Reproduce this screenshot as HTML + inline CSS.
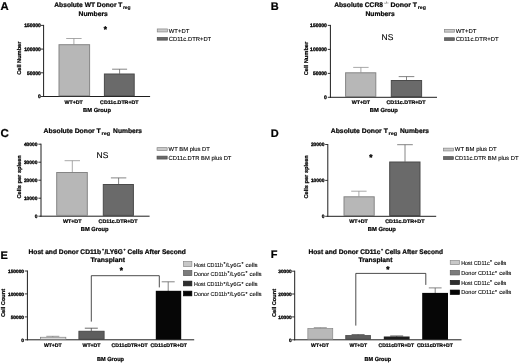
<!DOCTYPE html>
<html><head><meta charset="utf-8"><title>Figure</title>
<style>
html,body{margin:0;padding:0;background:#fff;}
body{width:520px;height:363px;overflow:hidden;}
svg{display:block;filter:blur(0.35px);text-rendering:geometricPrecision;font-family:'Liberation Sans', sans-serif;}
</style></head><body>
<svg width="520" height="363" viewBox="0 0 520 363" font-family='"Liberation Sans", sans-serif'>
<rect width="520" height="363" fill="#ffffff"/>
<text x="0.5" y="10" font-size="11.3" font-weight="bold" fill="#000" stroke="#000" stroke-width="0.22">A</text>
<text x="54.3" y="6.9" font-size="6.7" font-weight="bold" textLength="68.1" lengthAdjust="spacingAndGlyphs" fill="#000" stroke="#000" stroke-width="0.22">Absolute WT Donor T</text>
<text x="122.9" y="9.2" font-size="4.9" font-weight="bold" textLength="7.8" lengthAdjust="spacingAndGlyphs" fill="#000" stroke="#000" stroke-width="0.1">reg</text>
<text x="78.5" y="15.9" font-size="6.7" font-weight="bold" textLength="29.3" lengthAdjust="spacingAndGlyphs" fill="#000" stroke="#000" stroke-width="0.22">Numbers</text>
<line x1="43.6" y1="24.9" x2="43.6" y2="97.0" stroke="#1e1e1e" stroke-width="1.0"/>
<line x1="43.1" y1="96.5" x2="150.1" y2="96.5" stroke="#1e1e1e" stroke-width="1.0"/>
<line x1="41.0" y1="25.4" x2="43.6" y2="25.4" stroke="#1e1e1e" stroke-width="0.9"/>
<text x="40.9" y="27.2" font-size="5.0" font-weight="bold" text-anchor="end" fill="#000" stroke="#000" stroke-width="0.3">150000</text>
<line x1="41.0" y1="49.1" x2="43.6" y2="49.1" stroke="#1e1e1e" stroke-width="0.9"/>
<text x="40.9" y="50.9" font-size="5.0" font-weight="bold" text-anchor="end" fill="#000" stroke="#000" stroke-width="0.3">100000</text>
<line x1="41.0" y1="72.8" x2="43.6" y2="72.8" stroke="#1e1e1e" stroke-width="0.9"/>
<text x="40.9" y="74.6" font-size="5.0" font-weight="bold" text-anchor="end" fill="#000" stroke="#000" stroke-width="0.3">50000</text>
<line x1="41.0" y1="96.5" x2="43.6" y2="96.5" stroke="#1e1e1e" stroke-width="0.9"/>
<text x="40.9" y="98.3" font-size="5.0" font-weight="bold" text-anchor="end" fill="#000" stroke="#000" stroke-width="0.3">0</text>
<text transform="translate(21.0,58.2) rotate(-90)" font-size="5.6" font-weight="bold" text-anchor="middle" textLength="33.2" lengthAdjust="spacingAndGlyphs" fill="#000" stroke="#000" stroke-width="0.22">Cell Number</text>
<line x1="73.9" y1="38.5" x2="73.9" y2="44.5" stroke="#8c8c8c" stroke-width="0.75"/>
<line x1="66.2" y1="38.5" x2="81.60000000000001" y2="38.5" stroke="#8c8c8c" stroke-width="0.75"/>
<rect x="59.00" y="44.70" width="30.60" height="51.00" fill="#b7b7b7" stroke="#858585" stroke-width="1.0"/>
<line x1="119.6" y1="69.2" x2="119.6" y2="73.8" stroke="#5e5e5e" stroke-width="0.75"/>
<line x1="112.1" y1="69.2" x2="127.1" y2="69.2" stroke="#5e5e5e" stroke-width="0.75"/>
<rect x="104.40" y="74.00" width="29.80" height="21.70" fill="#6a6a6a" stroke="#4a4a4a" stroke-width="1.0"/>
<text x="105.4" y="32.054" font-size="8.2" font-weight="bold" text-anchor="middle" fill="#000" stroke="#000" stroke-width="0.4">*</text>
<text x="73.7" y="103.8" font-size="5.2" font-weight="bold" text-anchor="middle" textLength="18.2" lengthAdjust="spacingAndGlyphs" fill="#000" stroke="#000" stroke-width="0.22">WT+DT</text>
<text x="119.3" y="103.8" font-size="5.2" font-weight="bold" text-anchor="middle" textLength="38.4" lengthAdjust="spacingAndGlyphs" fill="#000" stroke="#000" stroke-width="0.22">CD11c.DTR+DT</text>
<text x="83.1" y="111.6" font-size="5.8" font-weight="bold" textLength="27.8" lengthAdjust="spacingAndGlyphs" fill="#000" stroke="#000" stroke-width="0.22">BM Group</text>
<rect x="157.25" y="28.95" width="10.10" height="3.00" fill="#c9c9c9" stroke="#858585" stroke-width="0.7"/>
<rect x="157.25" y="37.45" width="10.10" height="2.70" fill="#6a6a6a" stroke="#4a4a4a" stroke-width="0.7"/>
<text x="168.8" y="32.5" font-size="5.9" textLength="20.5" lengthAdjust="spacingAndGlyphs" fill="#000" stroke="#000" stroke-width="0.1">WT+DT</text>
<text x="168.8" y="40.8" font-size="5.9" textLength="42.4" lengthAdjust="spacingAndGlyphs" fill="#000" stroke="#000" stroke-width="0.1">CD11c.DTR+DT</text>
<text x="270.7" y="9.7" font-size="11" font-weight="bold" fill="#000" stroke="#000" stroke-width="0.22">B</text>
<text x="334.2" y="6.9" font-size="6.7" font-weight="bold" textLength="48.8" lengthAdjust="spacingAndGlyphs" fill="#000" stroke="#000" stroke-width="0.22">Absolute CCR8</text>
<text x="383.8" y="4.4" font-size="3.6" font-weight="bold" textLength="4.8" lengthAdjust="spacingAndGlyphs" fill="#555">-/-</text>
<text x="390.4" y="6.9" font-size="6.7" font-weight="bold" textLength="26.7" lengthAdjust="spacingAndGlyphs" fill="#000" stroke="#000" stroke-width="0.22">Donor T</text>
<text x="417.7" y="9.2" font-size="4.9" font-weight="bold" textLength="8.2" lengthAdjust="spacingAndGlyphs" fill="#000" stroke="#000" stroke-width="0.1">reg</text>
<text x="365.5" y="15.9" font-size="6.7" font-weight="bold" textLength="29.2" lengthAdjust="spacingAndGlyphs" fill="#000" stroke="#000" stroke-width="0.22">Numbers</text>
<line x1="330.4" y1="24.9" x2="330.4" y2="97.8" stroke="#1e1e1e" stroke-width="1.0"/>
<line x1="329.9" y1="97.3" x2="437.0" y2="97.3" stroke="#1e1e1e" stroke-width="1.0"/>
<line x1="327.79999999999995" y1="25.4" x2="330.4" y2="25.4" stroke="#1e1e1e" stroke-width="0.9"/>
<text x="326.8" y="27.2" font-size="5.0" font-weight="bold" text-anchor="end" fill="#000" stroke="#000" stroke-width="0.3">150000</text>
<line x1="327.79999999999995" y1="49.4" x2="330.4" y2="49.4" stroke="#1e1e1e" stroke-width="0.9"/>
<text x="326.8" y="51.2" font-size="5.0" font-weight="bold" text-anchor="end" fill="#000" stroke="#000" stroke-width="0.3">100000</text>
<line x1="327.79999999999995" y1="73.4" x2="330.4" y2="73.4" stroke="#1e1e1e" stroke-width="0.9"/>
<text x="326.8" y="75.2" font-size="5.0" font-weight="bold" text-anchor="end" fill="#000" stroke="#000" stroke-width="0.3">50000</text>
<line x1="327.79999999999995" y1="97.3" x2="330.4" y2="97.3" stroke="#1e1e1e" stroke-width="0.9"/>
<text x="326.8" y="99.1" font-size="5.0" font-weight="bold" text-anchor="end" fill="#000" stroke="#000" stroke-width="0.3">0</text>
<text transform="translate(307.6,58.5) rotate(-90)" font-size="5.6" font-weight="bold" text-anchor="middle" textLength="33.5" lengthAdjust="spacingAndGlyphs" fill="#000" stroke="#000" stroke-width="0.22">Cell Number</text>
<line x1="360.9" y1="67.4" x2="360.9" y2="72.6" stroke="#8c8c8c" stroke-width="0.75"/>
<line x1="353.2" y1="67.4" x2="368.59999999999997" y2="67.4" stroke="#8c8c8c" stroke-width="0.75"/>
<rect x="345.60" y="72.80" width="30.20" height="23.70" fill="#b7b7b7" stroke="#858585" stroke-width="1.0"/>
<line x1="406.5" y1="76.6" x2="406.5" y2="80.3" stroke="#5e5e5e" stroke-width="0.75"/>
<line x1="398.7" y1="76.6" x2="414.3" y2="76.6" stroke="#5e5e5e" stroke-width="0.75"/>
<rect x="391.30" y="80.50" width="30.30" height="16.00" fill="#6a6a6a" stroke="#4a4a4a" stroke-width="1.0"/>
<text x="387.4" y="40.0" font-size="8.4" text-anchor="middle" textLength="11.8" lengthAdjust="spacingAndGlyphs" fill="#000" stroke="#000" stroke-width="0.12">NS</text>
<text x="360.9" y="104.3" font-size="5.2" font-weight="bold" text-anchor="middle" textLength="18.4" lengthAdjust="spacingAndGlyphs" fill="#000" stroke="#000" stroke-width="0.22">WT+DT</text>
<text x="406.0" y="104.3" font-size="5.2" font-weight="bold" text-anchor="middle" textLength="39.0" lengthAdjust="spacingAndGlyphs" fill="#000" stroke="#000" stroke-width="0.22">CD11c.DTR+DT</text>
<text x="369.8" y="111.9" font-size="5.8" font-weight="bold" textLength="28.0" lengthAdjust="spacingAndGlyphs" fill="#000" stroke="#000" stroke-width="0.22">BM Group</text>
<rect x="444.55" y="29.35" width="9.80" height="2.80" fill="#c9c9c9" stroke="#858585" stroke-width="0.7"/>
<rect x="444.55" y="37.75" width="9.80" height="2.70" fill="#6a6a6a" stroke="#4a4a4a" stroke-width="0.7"/>
<text x="455.7" y="32.5" font-size="5.9" textLength="20.8" lengthAdjust="spacingAndGlyphs" fill="#000" stroke="#000" stroke-width="0.1">WT+DT</text>
<text x="455.7" y="41.0" font-size="5.9" textLength="42.9" lengthAdjust="spacingAndGlyphs" fill="#000" stroke="#000" stroke-width="0.1">CD11c.DTR+DT</text>
<text x="0.4" y="137.0" font-size="11.5" font-weight="bold" fill="#000" stroke="#000" stroke-width="0.22">C</text>
<text x="43.6" y="133.0" font-size="6.7" font-weight="bold" textLength="57.2" lengthAdjust="spacingAndGlyphs" fill="#000" stroke="#000" stroke-width="0.22">Absolute Donor T</text>
<text x="101.6" y="135.3" font-size="4.9" font-weight="bold" textLength="8.6" lengthAdjust="spacingAndGlyphs" fill="#000" stroke="#000" stroke-width="0.1">reg</text>
<text x="113.1" y="133.0" font-size="6.7" font-weight="bold" textLength="29.0" lengthAdjust="spacingAndGlyphs" fill="#000" stroke="#000" stroke-width="0.22">Numbers</text>
<line x1="41.0" y1="143.7" x2="41.0" y2="216.7" stroke="#1e1e1e" stroke-width="1.0"/>
<line x1="40.5" y1="216.2" x2="149.6" y2="216.2" stroke="#1e1e1e" stroke-width="1.0"/>
<line x1="38.4" y1="144.2" x2="41.0" y2="144.2" stroke="#1e1e1e" stroke-width="0.9"/>
<text x="37.5" y="146.0" font-size="4.8999999999999995" font-weight="bold" text-anchor="end" fill="#000" stroke="#000" stroke-width="0.3">40000</text>
<line x1="38.4" y1="162.2" x2="41.0" y2="162.2" stroke="#1e1e1e" stroke-width="0.9"/>
<text x="37.5" y="164.0" font-size="4.8999999999999995" font-weight="bold" text-anchor="end" fill="#000" stroke="#000" stroke-width="0.3">30000</text>
<line x1="38.4" y1="180.2" x2="41.0" y2="180.2" stroke="#1e1e1e" stroke-width="0.9"/>
<text x="37.5" y="182.0" font-size="4.8999999999999995" font-weight="bold" text-anchor="end" fill="#000" stroke="#000" stroke-width="0.3">20000</text>
<line x1="38.4" y1="198.2" x2="41.0" y2="198.2" stroke="#1e1e1e" stroke-width="0.9"/>
<text x="37.5" y="200.0" font-size="4.8999999999999995" font-weight="bold" text-anchor="end" fill="#000" stroke="#000" stroke-width="0.3">10000</text>
<line x1="38.4" y1="216.2" x2="41.0" y2="216.2" stroke="#1e1e1e" stroke-width="0.9"/>
<text x="37.5" y="218.0" font-size="4.8999999999999995" font-weight="bold" text-anchor="end" fill="#000" stroke="#000" stroke-width="0.3">0</text>
<text transform="translate(21.0,176.9) rotate(-90)" font-size="5.6" font-weight="bold" text-anchor="middle" textLength="43.4" lengthAdjust="spacingAndGlyphs" fill="#000" stroke="#000" stroke-width="0.22">Cells per spleen</text>
<line x1="72.3" y1="160.7" x2="72.3" y2="172.3" stroke="#8c8c8c" stroke-width="0.75"/>
<line x1="64.6" y1="160.7" x2="80.0" y2="160.7" stroke="#8c8c8c" stroke-width="0.75"/>
<rect x="56.70" y="172.50" width="30.60" height="42.90" fill="#b7b7b7" stroke="#858585" stroke-width="1.0"/>
<line x1="118.6" y1="177.9" x2="118.6" y2="184.3" stroke="#5e5e5e" stroke-width="0.75"/>
<line x1="110.89999999999999" y1="177.9" x2="126.3" y2="177.9" stroke="#5e5e5e" stroke-width="0.75"/>
<rect x="103.30" y="184.50" width="30.10" height="30.90" fill="#6a6a6a" stroke="#4a4a4a" stroke-width="1.0"/>
<text x="102.4" y="157.9" font-size="8.4" text-anchor="middle" textLength="11.8" lengthAdjust="spacingAndGlyphs" fill="#000" stroke="#000" stroke-width="0.12">NS</text>
<text x="72.2" y="223.1" font-size="5.2" font-weight="bold" text-anchor="middle" textLength="18.6" lengthAdjust="spacingAndGlyphs" fill="#000" stroke="#000" stroke-width="0.22">WT+DT</text>
<text x="118.0" y="223.1" font-size="5.2" font-weight="bold" text-anchor="middle" textLength="38.9" lengthAdjust="spacingAndGlyphs" fill="#000" stroke="#000" stroke-width="0.22">CD11c.DTR+DT</text>
<text x="80.8" y="231.0" font-size="5.8" font-weight="bold" textLength="27.8" lengthAdjust="spacingAndGlyphs" fill="#000" stroke="#000" stroke-width="0.22">BM Group</text>
<rect x="157.05" y="147.65" width="10.10" height="2.90" fill="#c9c9c9" stroke="#858585" stroke-width="0.7"/>
<rect x="157.05" y="156.15" width="10.10" height="2.90" fill="#6a6a6a" stroke="#4a4a4a" stroke-width="0.7"/>
<text x="168.6" y="151.4" font-size="5.9" textLength="41.3" lengthAdjust="spacingAndGlyphs" fill="#000" stroke="#000" stroke-width="0.1">WT BM plus DT</text>
<text x="168.6" y="159.9" font-size="5.9" textLength="62.8" lengthAdjust="spacingAndGlyphs" fill="#000" stroke="#000" stroke-width="0.1">CD11c.DTR BM plus DT</text>
<text x="270.7" y="137.0" font-size="11" font-weight="bold" fill="#000" stroke="#000" stroke-width="0.22">D</text>
<text x="330.8" y="132.8" font-size="6.7" font-weight="bold" textLength="57.0" lengthAdjust="spacingAndGlyphs" fill="#000" stroke="#000" stroke-width="0.22">Absolute Donor T</text>
<text x="388.5" y="135.1" font-size="4.9" font-weight="bold" textLength="8.6" lengthAdjust="spacingAndGlyphs" fill="#000" stroke="#000" stroke-width="0.1">reg</text>
<text x="400.0" y="132.8" font-size="6.7" font-weight="bold" textLength="29.0" lengthAdjust="spacingAndGlyphs" fill="#000" stroke="#000" stroke-width="0.22">Numbers</text>
<line x1="327.8" y1="144.0" x2="327.8" y2="216.8" stroke="#1e1e1e" stroke-width="1.0"/>
<line x1="327.3" y1="216.3" x2="436.2" y2="216.3" stroke="#1e1e1e" stroke-width="1.0"/>
<line x1="325.2" y1="144.5" x2="327.8" y2="144.5" stroke="#1e1e1e" stroke-width="0.9"/>
<text x="324.5" y="146.3" font-size="4.8999999999999995" font-weight="bold" text-anchor="end" fill="#000" stroke="#000" stroke-width="0.3">20000</text>
<line x1="325.2" y1="180.4" x2="327.8" y2="180.4" stroke="#1e1e1e" stroke-width="0.9"/>
<text x="324.5" y="182.2" font-size="4.8999999999999995" font-weight="bold" text-anchor="end" fill="#000" stroke="#000" stroke-width="0.3">10000</text>
<line x1="325.2" y1="216.3" x2="327.8" y2="216.3" stroke="#1e1e1e" stroke-width="0.9"/>
<text x="324.5" y="218.1" font-size="4.8999999999999995" font-weight="bold" text-anchor="end" fill="#000" stroke="#000" stroke-width="0.3">0</text>
<text transform="translate(308.0,176.9) rotate(-90)" font-size="5.6" font-weight="bold" text-anchor="middle" textLength="43.4" lengthAdjust="spacingAndGlyphs" fill="#000" stroke="#000" stroke-width="0.22">Cells per spleen</text>
<line x1="358.9" y1="191.2" x2="358.9" y2="196.6" stroke="#8c8c8c" stroke-width="0.75"/>
<line x1="351.2" y1="191.2" x2="366.59999999999997" y2="191.2" stroke="#8c8c8c" stroke-width="0.75"/>
<rect x="344.00" y="196.80" width="30.20" height="18.70" fill="#b7b7b7" stroke="#858585" stroke-width="1.0"/>
<line x1="405.0" y1="144.7" x2="405.0" y2="161.8" stroke="#5e5e5e" stroke-width="0.75"/>
<line x1="397.2" y1="144.7" x2="412.8" y2="144.7" stroke="#5e5e5e" stroke-width="0.75"/>
<rect x="389.70" y="162.00" width="30.30" height="53.50" fill="#6a6a6a" stroke="#4a4a4a" stroke-width="1.0"/>
<text x="370.8" y="159.954" font-size="8.2" font-weight="bold" text-anchor="middle" fill="#000" stroke="#000" stroke-width="0.4">*</text>
<text x="358.6" y="223.1" font-size="5.2" font-weight="bold" text-anchor="middle" textLength="18.5" lengthAdjust="spacingAndGlyphs" fill="#000" stroke="#000" stroke-width="0.22">WT+DT</text>
<text x="404.8" y="223.1" font-size="5.2" font-weight="bold" text-anchor="middle" textLength="39.3" lengthAdjust="spacingAndGlyphs" fill="#000" stroke="#000" stroke-width="0.22">CD11c.DTR+DT</text>
<text x="367.7" y="231.0" font-size="5.8" font-weight="bold" textLength="28.2" lengthAdjust="spacingAndGlyphs" fill="#000" stroke="#000" stroke-width="0.22">BM Group</text>
<rect x="443.55" y="148.15" width="9.80" height="2.80" fill="#c9c9c9" stroke="#858585" stroke-width="0.7"/>
<rect x="443.55" y="156.65" width="9.80" height="2.80" fill="#6a6a6a" stroke="#4a4a4a" stroke-width="0.7"/>
<text x="454.8" y="151.4" font-size="5.9" textLength="41.9" lengthAdjust="spacingAndGlyphs" fill="#000" stroke="#000" stroke-width="0.1">WT BM plus DT</text>
<text x="454.8" y="159.9" font-size="5.9" textLength="63.7" lengthAdjust="spacingAndGlyphs" fill="#000" stroke="#000" stroke-width="0.1">CD11c.DTR BM plus DT</text>
<text x="0.4" y="258.8" font-size="11" font-weight="bold" fill="#000" stroke="#000" stroke-width="0.22">E</text>
<text x="28.5" y="254.2" font-size="6.7" font-weight="bold" textLength="72.6" lengthAdjust="spacingAndGlyphs" fill="#000" stroke="#000" stroke-width="0.22">Host and Donor CD11b</text>
<text x="101.9" y="250.9" font-size="3.6" font-weight="bold" fill="#000" stroke="#000" stroke-width="0.22">+</text>
<text x="104.4" y="254.2" font-size="6.7" font-weight="bold" textLength="18.4" lengthAdjust="spacingAndGlyphs" fill="#000" stroke="#000" stroke-width="0.22">/LY6G</text>
<text x="123.5" y="250.9" font-size="3.6" font-weight="bold" fill="#000" stroke="#000" stroke-width="0.22">+</text>
<text x="127.4" y="254.2" font-size="6.7" font-weight="bold" textLength="58.4" lengthAdjust="spacingAndGlyphs" fill="#000" stroke="#000" stroke-width="0.22">Cells After Second</text>
<text x="90.5" y="261.6" font-size="6.7" font-weight="bold" textLength="34.5" lengthAdjust="spacingAndGlyphs" fill="#000" stroke="#000" stroke-width="0.22">Transplant</text>
<line x1="27.4" y1="270.5" x2="27.4" y2="340.3" stroke="#1e1e1e" stroke-width="1.0"/>
<line x1="26.9" y1="339.8" x2="194.2" y2="339.8" stroke="#1e1e1e" stroke-width="1.0"/>
<line x1="24.799999999999997" y1="271.0" x2="27.4" y2="271.0" stroke="#1e1e1e" stroke-width="0.9"/>
<text x="24.0" y="272.8" font-size="4.8" font-weight="bold" text-anchor="end" fill="#000" stroke="#000" stroke-width="0.3">150000</text>
<line x1="24.799999999999997" y1="293.9" x2="27.4" y2="293.9" stroke="#1e1e1e" stroke-width="0.9"/>
<text x="24.0" y="295.7" font-size="4.8" font-weight="bold" text-anchor="end" fill="#000" stroke="#000" stroke-width="0.3">100000</text>
<line x1="24.799999999999997" y1="316.9" x2="27.4" y2="316.9" stroke="#1e1e1e" stroke-width="0.9"/>
<text x="24.0" y="318.7" font-size="4.8" font-weight="bold" text-anchor="end" fill="#000" stroke="#000" stroke-width="0.3">50000</text>
<line x1="24.799999999999997" y1="339.8" x2="27.4" y2="339.8" stroke="#1e1e1e" stroke-width="0.9"/>
<text x="24.0" y="341.6" font-size="4.8" font-weight="bold" text-anchor="end" fill="#000" stroke="#000" stroke-width="0.3">0</text>
<text transform="translate(5.0,303.0) rotate(-90)" font-size="5.6" font-weight="bold" text-anchor="middle" textLength="28.1" lengthAdjust="spacingAndGlyphs" fill="#000" stroke="#000" stroke-width="0.22">Cell Count</text>
<line x1="52.8" y1="336.3" x2="52.8" y2="337.2" stroke="#777" stroke-width="0.75"/>
<line x1="46.3" y1="336.3" x2="59.3" y2="336.3" stroke="#777" stroke-width="0.75"/>
<rect x="40.35" y="337.25" width="25.50" height="2.00" fill="#e4e4e4" stroke="#7d7d7d" stroke-width="0.7"/>
<line x1="91.3" y1="328.2" x2="91.3" y2="331.0" stroke="#3a3a3a" stroke-width="0.75"/>
<line x1="84.8" y1="328.2" x2="97.8" y2="328.2" stroke="#3a3a3a" stroke-width="0.75"/>
<rect x="78.85" y="331.15" width="25.30" height="8.10" fill="#5e5e5e" stroke="#3a3a3a" stroke-width="0.7"/>
<line x1="168.2" y1="281.8" x2="168.2" y2="291.0" stroke="#5c5c5c" stroke-width="0.75"/>
<line x1="161.7" y1="281.8" x2="174.7" y2="281.8" stroke="#5c5c5c" stroke-width="0.75"/>
<rect x="155.80" y="290.80" width="25.40" height="48.80" fill="#060606"/>
<path d="M91.3 321.6 V275.7 H159.3 V287.4" fill="none" stroke="#111" stroke-width="0.75"/>
<text x="121.3" y="273.154" font-size="8.2" font-weight="bold" text-anchor="middle" fill="#000" stroke="#000" stroke-width="0.4">*</text>
<text x="52.8" y="347.0" font-size="5.2" font-weight="bold" text-anchor="middle" textLength="17.8" lengthAdjust="spacingAndGlyphs" fill="#000" stroke="#000" stroke-width="0.22">WT+DT</text>
<text x="91.5" y="347.0" font-size="5.2" font-weight="bold" text-anchor="middle" textLength="18.0" lengthAdjust="spacingAndGlyphs" fill="#000" stroke="#000" stroke-width="0.22">WT+DT</text>
<text x="129.6" y="347.0" font-size="5.2" font-weight="bold" text-anchor="middle" textLength="36.2" lengthAdjust="spacingAndGlyphs" fill="#000" stroke="#000" stroke-width="0.22">CD11cDTR+DT</text>
<text x="168.7" y="347.0" font-size="5.2" font-weight="bold" text-anchor="middle" textLength="36.4" lengthAdjust="spacingAndGlyphs" fill="#000" stroke="#000" stroke-width="0.22">CD11cDTR+DT</text>
<text x="97.0" y="360.9" font-size="5.8" font-weight="bold" textLength="27.0" lengthAdjust="spacingAndGlyphs" fill="#000" stroke="#000" stroke-width="0.22">BM Group</text>
<rect x="183.45" y="261.55" width="8.40" height="5.10" fill="#c8c8c8" stroke="#8a8a8a" stroke-width="0.7"/>
<rect x="183.45" y="270.55" width="8.40" height="5.10" fill="#7c7c7c" stroke="#5a5a5a" stroke-width="0.7"/>
<rect x="183.45" y="281.15" width="8.40" height="4.70" fill="#2e2e2e" stroke="#1a1a1a" stroke-width="0.7"/>
<rect x="183.45" y="291.15" width="8.40" height="4.70" fill="#050505" stroke="#000" stroke-width="0.7"/>
<text x="194.1" y="266.6" font-size="5.8" textLength="29.0" lengthAdjust="spacingAndGlyphs" fill="#000" stroke="#000" stroke-width="0.1">Host CD11b</text>
<text x="223.4" y="264.0" font-size="3.3" font-weight="bold" fill="#000" stroke="#000" stroke-width="0.22">+</text>
<text x="225.7" y="266.6" font-size="5.8" textLength="15.4" lengthAdjust="spacingAndGlyphs" fill="#000" stroke="#000" stroke-width="0.1">/Ly6G</text>
<text x="241.4" y="264.0" font-size="3.3" font-weight="bold" fill="#000" stroke="#000" stroke-width="0.22">+</text>
<text x="245.5" y="266.6" font-size="5.8" textLength="12.0" lengthAdjust="spacingAndGlyphs" fill="#000" stroke="#000" stroke-width="0.1">cells</text>
<text x="194.1" y="275.8" font-size="5.8" textLength="33.0" lengthAdjust="spacingAndGlyphs" fill="#000" stroke="#000" stroke-width="0.1">Donor CD11b</text>
<text x="227.4" y="273.2" font-size="3.3" font-weight="bold" fill="#000" stroke="#000" stroke-width="0.22">+</text>
<text x="229.7" y="275.8" font-size="5.8" textLength="15.4" lengthAdjust="spacingAndGlyphs" fill="#000" stroke="#000" stroke-width="0.1">/Ly6G</text>
<text x="245.4" y="273.2" font-size="3.3" font-weight="bold" fill="#000" stroke="#000" stroke-width="0.22">+</text>
<text x="249.5" y="275.8" font-size="5.8" textLength="12.0" lengthAdjust="spacingAndGlyphs" fill="#000" stroke="#000" stroke-width="0.1">cells</text>
<text x="194.1" y="286.4" font-size="5.8" textLength="29.0" lengthAdjust="spacingAndGlyphs" fill="#000" stroke="#000" stroke-width="0.1">Host CD11b</text>
<text x="223.4" y="283.79999999999995" font-size="3.3" font-weight="bold" fill="#000" stroke="#000" stroke-width="0.22">+</text>
<text x="225.7" y="286.4" font-size="5.8" textLength="15.4" lengthAdjust="spacingAndGlyphs" fill="#000" stroke="#000" stroke-width="0.1">/Ly6G</text>
<text x="241.4" y="283.79999999999995" font-size="3.3" font-weight="bold" fill="#000" stroke="#000" stroke-width="0.22">+</text>
<text x="245.5" y="286.4" font-size="5.8" textLength="12.0" lengthAdjust="spacingAndGlyphs" fill="#000" stroke="#000" stroke-width="0.1">cells</text>
<text x="194.1" y="296.4" font-size="5.8" textLength="33.0" lengthAdjust="spacingAndGlyphs" fill="#000" stroke="#000" stroke-width="0.1">Donor CD11b</text>
<text x="227.4" y="293.79999999999995" font-size="3.3" font-weight="bold" fill="#000" stroke="#000" stroke-width="0.22">+</text>
<text x="229.7" y="296.4" font-size="5.8" textLength="15.4" lengthAdjust="spacingAndGlyphs" fill="#000" stroke="#000" stroke-width="0.1">/Ly6G</text>
<text x="245.4" y="293.79999999999995" font-size="3.3" font-weight="bold" fill="#000" stroke="#000" stroke-width="0.22">+</text>
<text x="249.5" y="296.4" font-size="5.8" textLength="12.0" lengthAdjust="spacingAndGlyphs" fill="#000" stroke="#000" stroke-width="0.1">cells</text>
<text x="270.7" y="258.2" font-size="11" font-weight="bold" fill="#000" stroke="#000" stroke-width="0.22">F</text>
<text x="308.5" y="254.2" font-size="6.7" font-weight="bold" textLength="72.0" lengthAdjust="spacingAndGlyphs" fill="#000" stroke="#000" stroke-width="0.22">Host and Donor CD11c</text>
<text x="381.0" y="250.9" font-size="3.6" font-weight="bold" fill="#000" stroke="#000" stroke-width="0.22">+</text>
<text x="385.0" y="254.2" font-size="6.7" font-weight="bold" textLength="57.9" lengthAdjust="spacingAndGlyphs" fill="#000" stroke="#000" stroke-width="0.22">Cells After Second</text>
<text x="358.5" y="261.6" font-size="6.7" font-weight="bold" textLength="33.9" lengthAdjust="spacingAndGlyphs" fill="#000" stroke="#000" stroke-width="0.22">Transplant</text>
<line x1="294.7" y1="270.7" x2="294.7" y2="340.3" stroke="#1e1e1e" stroke-width="1.0"/>
<line x1="294.2" y1="339.8" x2="461.5" y2="339.8" stroke="#1e1e1e" stroke-width="1.0"/>
<line x1="292.09999999999997" y1="271.2" x2="294.7" y2="271.2" stroke="#1e1e1e" stroke-width="0.9"/>
<text x="291.6" y="273.0" font-size="4.8" font-weight="bold" text-anchor="end" fill="#000" stroke="#000" stroke-width="0.3">30000</text>
<line x1="292.09999999999997" y1="294.0" x2="294.7" y2="294.0" stroke="#1e1e1e" stroke-width="0.9"/>
<text x="291.6" y="295.8" font-size="4.8" font-weight="bold" text-anchor="end" fill="#000" stroke="#000" stroke-width="0.3">20000</text>
<line x1="292.09999999999997" y1="316.9" x2="294.7" y2="316.9" stroke="#1e1e1e" stroke-width="0.9"/>
<text x="291.6" y="318.7" font-size="4.8" font-weight="bold" text-anchor="end" fill="#000" stroke="#000" stroke-width="0.3">10000</text>
<line x1="292.09999999999997" y1="339.8" x2="294.7" y2="339.8" stroke="#1e1e1e" stroke-width="0.9"/>
<text x="291.6" y="341.6" font-size="4.8" font-weight="bold" text-anchor="end" fill="#000" stroke="#000" stroke-width="0.3">0</text>
<text transform="translate(275.5,303.0) rotate(-90)" font-size="5.6" font-weight="bold" text-anchor="middle" textLength="28.0" lengthAdjust="spacingAndGlyphs" fill="#000" stroke="#000" stroke-width="0.22">Cell Count</text>
<line x1="320.3" y1="327.7" x2="320.3" y2="328.4" stroke="#777" stroke-width="0.75"/>
<line x1="313.8" y1="327.7" x2="326.8" y2="327.7" stroke="#777" stroke-width="0.75"/>
<rect x="307.85" y="328.55" width="24.90" height="10.70" fill="#b9b9b9" stroke="#858585" stroke-width="0.7"/>
<line x1="358.1" y1="334.6" x2="358.1" y2="335.3" stroke="#3a3a3a" stroke-width="0.75"/>
<line x1="351.6" y1="334.6" x2="364.6" y2="334.6" stroke="#3a3a3a" stroke-width="0.75"/>
<rect x="345.75" y="335.55" width="24.70" height="3.70" fill="#5e5e5e" stroke="#3a3a3a" stroke-width="0.7"/>
<line x1="396.7" y1="336.0" x2="396.7" y2="336.6" stroke="#222" stroke-width="0.75"/>
<line x1="390.2" y1="336.0" x2="403.2" y2="336.0" stroke="#222" stroke-width="0.75"/>
<rect x="383.80" y="336.50" width="25.80" height="3.10" fill="#1e1e1e"/>
<line x1="435.2" y1="287.9" x2="435.2" y2="293.0" stroke="#5c5c5c" stroke-width="0.75"/>
<line x1="428.8" y1="287.9" x2="441.59999999999997" y2="287.9" stroke="#5c5c5c" stroke-width="0.75"/>
<rect x="422.20" y="292.90" width="25.80" height="46.70" fill="#060606"/>
<path d="M355.8 325.6 V273.4 H425.8 V284.9" fill="none" stroke="#111" stroke-width="0.75"/>
<text x="387.8" y="271.554" font-size="8.2" font-weight="bold" text-anchor="middle" fill="#000" stroke="#000" stroke-width="0.4">*</text>
<text x="320.0" y="347.4" font-size="5.2" font-weight="bold" text-anchor="middle" textLength="17.8" lengthAdjust="spacingAndGlyphs" fill="#000" stroke="#000" stroke-width="0.22">WT+DT</text>
<text x="358.2" y="347.4" font-size="5.2" font-weight="bold" text-anchor="middle" textLength="17.6" lengthAdjust="spacingAndGlyphs" fill="#000" stroke="#000" stroke-width="0.22">WT+DT</text>
<text x="396.3" y="347.4" font-size="5.2" font-weight="bold" text-anchor="middle" textLength="35.6" lengthAdjust="spacingAndGlyphs" fill="#000" stroke="#000" stroke-width="0.22">CD11cDTR+DT</text>
<text x="434.9" y="347.4" font-size="5.2" font-weight="bold" text-anchor="middle" textLength="36.0" lengthAdjust="spacingAndGlyphs" fill="#000" stroke="#000" stroke-width="0.22">CD11cDTR+DT</text>
<text x="364.6" y="360.9" font-size="5.8" font-weight="bold" textLength="26.6" lengthAdjust="spacingAndGlyphs" fill="#000" stroke="#000" stroke-width="0.22">BM Group</text>
<rect x="450.25" y="260.65" width="9.20" height="3.90" fill="#c8c8c8" stroke="#8a8a8a" stroke-width="0.7"/>
<rect x="450.25" y="270.45" width="9.20" height="4.50" fill="#7c7c7c" stroke="#5a5a5a" stroke-width="0.7"/>
<rect x="450.25" y="280.35" width="9.20" height="4.20" fill="#2e2e2e" stroke="#1a1a1a" stroke-width="0.7"/>
<rect x="450.25" y="290.05" width="9.20" height="4.40" fill="#050505" stroke="#000" stroke-width="0.7"/>
<text x="461.2" y="265.0" font-size="5.8" textLength="28.5" lengthAdjust="spacingAndGlyphs" fill="#000" stroke="#000" stroke-width="0.1">Host CD11c</text>
<text x="490.09999999999997" y="262.4" font-size="3.3" font-weight="bold" fill="#000" stroke="#000" stroke-width="0.22">+</text>
<text x="494.3" y="265.0" font-size="5.8" textLength="12.0" lengthAdjust="spacingAndGlyphs" fill="#000" stroke="#000" stroke-width="0.1">cells</text>
<text x="461.2" y="275.2" font-size="5.8" textLength="33.4" lengthAdjust="spacingAndGlyphs" fill="#000" stroke="#000" stroke-width="0.1">Donor CD11c</text>
<text x="494.99999999999994" y="272.59999999999997" font-size="3.3" font-weight="bold" fill="#000" stroke="#000" stroke-width="0.22">+</text>
<text x="499.2" y="275.2" font-size="5.8" textLength="12.0" lengthAdjust="spacingAndGlyphs" fill="#000" stroke="#000" stroke-width="0.1">cells</text>
<text x="461.2" y="284.9" font-size="5.8" textLength="28.5" lengthAdjust="spacingAndGlyphs" fill="#000" stroke="#000" stroke-width="0.1">Host CD11c</text>
<text x="490.09999999999997" y="282.29999999999995" font-size="3.3" font-weight="bold" fill="#000" stroke="#000" stroke-width="0.22">+</text>
<text x="494.3" y="284.9" font-size="5.8" textLength="12.0" lengthAdjust="spacingAndGlyphs" fill="#000" stroke="#000" stroke-width="0.1">cells</text>
<text x="461.2" y="294.4" font-size="5.8" textLength="33.4" lengthAdjust="spacingAndGlyphs" fill="#000" stroke="#000" stroke-width="0.1">Donor CD11c</text>
<text x="494.99999999999994" y="291.79999999999995" font-size="3.3" font-weight="bold" fill="#000" stroke="#000" stroke-width="0.22">+</text>
<text x="499.2" y="294.4" font-size="5.8" textLength="12.0" lengthAdjust="spacingAndGlyphs" fill="#000" stroke="#000" stroke-width="0.1">cells</text>
</svg>
</body></html>
